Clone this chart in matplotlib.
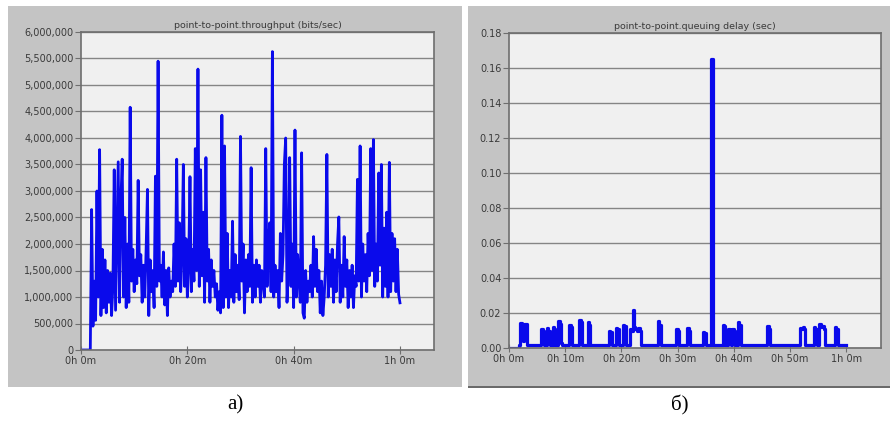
import matplotlib.pyplot as plt
from matplotlib.patches import Rectangle
from matplotlib.ticker import FuncFormatter

# sample spacing 15 s
step_min = 0.25

# throughput, thousands of bits/sec, t = 0 .. 60 min
throughput_k = [
    0, 0, 0, 0, 0, 0, 0, 0, 2650, 450, 1300, 560,
    3000, 1000, 3780, 650, 1900, 800, 1700, 700, 1500, 900, 1450, 650,
    1200, 3400, 750, 2100, 3550, 900, 2800, 3600, 1000, 2500, 800, 2000,
    900, 4580, 1300, 1900, 1100, 1700, 1250, 3200, 1400, 1800, 900, 1600,
    1000, 1900, 3030, 650, 1700, 1100, 1500, 800, 3280, 1200, 5450, 1300,
    1600, 1000, 1850, 850, 1500, 650, 1550, 1000, 1300, 1100, 2000, 1200,
    3600, 1300, 2400, 1100, 1800, 3500, 1200, 2100, 1000, 1600, 3270, 1100,
    1900, 1300, 3800, 1500, 5300, 1200, 3400, 1400, 2600, 900, 3630, 1300,
    1900, 900, 1700, 1200, 1500, 1000, 1250, 750, 1100, 700, 4430, 800,
    3850, 1000, 2200, 800, 1500, 1000, 2430, 900, 1800, 1100, 1600, 950,
    4030, 1300, 2000, 700, 1700, 1100, 1800, 1200, 3440, 900, 1600, 1000,
    1700, 1200, 1600, 900, 1500, 1300, 1000, 3800, 1200, 2000, 2400, 1100,
    5630, 1000, 1600, 1100, 1500, 800, 2200, 1300, 1800, 3500, 4000, 900,
    1500, 3630, 1200, 2000, 800, 4150, 1000, 1800, 1300, 900, 3720, 700,
    600, 1500, 900, 1300, 1100, 1600, 1000, 2140, 1200, 1900, 1100, 1500,
    700, 1300, 650, 1000, 1600, 3690, 1000, 1800, 1200, 1900, 900, 1700,
    1100, 2000, 2510, 900, 1600, 1000, 2140, 1200, 1700, 800, 1500, 1000,
    1600, 800, 1400, 1200, 3220, 1300, 3850, 1000, 2000, 1300, 1800, 1100,
    2200, 1400, 3800, 1500, 3970, 1200, 2000, 1300, 3340, 1600, 3500, 1000,
    2300, 1200, 2600, 1000, 3540, 1100, 2200, 1300, 2100, 1100, 1900, 1050,
    890,
]

# queuing delay, milliseconds, t = 0 .. 60 min
delay_ms = [
    0, 0, 0, 0, 0, 0, 0, 1.5, 14.5, 12, 4, 13.5,
    14, 2, 1.5, 1.5, 1.5, 1.5, 1.5, 1.5, 1.5, 1.5, 1.5, 11,
    10, 2, 1.5, 11.5, 10, 1.5, 1.5, 12, 11, 1.5, 1.5, 15.5,
    14, 3, 1.5, 1.5, 1.5, 1.5, 1.5, 13, 12, 1.5, 1.5, 1.5,
    1.5, 1.5, 16, 15, 2, 1.5, 1.5, 1.5, 15, 13, 2, 1.5,
    1.5, 1.5, 1.5, 1.5, 1.5, 1.5, 1.5, 1.5, 1.5, 1.5, 1.5, 10,
    9, 1.5, 1.5, 1.5, 11.5, 11, 1.5, 1.5, 1.5, 13, 12.5, 2,
    1.5, 1.5, 11, 10, 22, 12, 11, 10, 11.5, 10, 2, 1.5,
    1.5, 1.5, 1.5, 1.5, 1.5, 1.5, 1.5, 1.5, 1.5, 1.5, 15.5, 13,
    2, 1.5, 1.5, 1.5, 1.5, 1.5, 1.5, 1.5, 1.5, 1.5, 1.5, 11,
    10, 1.5, 1.5, 1.5, 1.5, 1.5, 1.5, 11.5, 10, 1.5, 1.5, 1.5,
    1.5, 1.5, 1.5, 1.5, 1.5, 1.5, 9, 8.5, 1.5, 1.5, 1.5, 1.5,
    165, 2, 1.5, 1.5, 1.5, 1.5, 1.5, 1.5, 13, 12.5, 2, 1.5,
    11, 10.5, 1.5, 11, 10, 1.5, 1.5, 14.7, 13, 1.5, 1.5, 1.5,
    1.5, 1.5, 1.5, 1.5, 1.5, 1.5, 1.5, 1.5, 1.5, 1.5, 1.5, 1.5,
    1.5, 1.5, 1.5, 1.5, 12.5, 11, 2, 1.5, 1.5, 1.5, 1.5, 1.5,
    1.5, 1.5, 1.5, 1.5, 1.5, 1.5, 1.5, 1.5, 1.5, 1.5, 1.5, 1.5,
    1.5, 1.5, 1.5, 11.5, 11, 12, 11, 1.5, 1.5, 1.5, 1.5, 1.5,
    1.5, 12, 11, 1.5, 1.5, 13.7, 12, 12.5, 11, 1.5, 1.5, 1.5,
    1.5, 1.5, 1.5, 1.5, 11.8, 11, 1.5, 1.5, 1.5, 1.5, 1.5, 1.5,
    1.5,
]

left_ticks = [0, 20, 40, 60]
left_tick_labels = ["0h 0m", "0h 20m", "0h 40m", "1h 0m"]
right_ticks = [0, 10, 20, 30, 40, 50, 60]
right_tick_labels = ["0h 0m", "0h 10m", "0h 20m", "0h 30m", "0h 40m", "0h 50m", "1h 0m"]

W, H = 896, 425
panel_grey = "#c4c4c4"
face = "#f0f0f0"
blue = "#0a0aeb"
text_col = "#3a3a3a"

plt.rcParams["font.family"] = ["DejaVu Sans"]

fig = plt.figure(figsize=(W / 100, H / 100), dpi=100)
fig.patch.set_facecolor("white")


def px_rect(x0, y0, x1, y1):
    # pixel box (top-left origin) -> figure fraction
    return (x0 / W, 1 - y1 / H, (x1 - x0) / W, (y1 - y0) / H)


for box in [(8, 6, 462, 387), (468, 6, 890, 387)]:
    l, b, w, h = px_rect(*box)
    fig.patches.append(Rectangle((l, b), w, h, transform=fig.transFigure,
                                 facecolor=panel_grey, edgecolor="none", zorder=-10))
# darker bottom edge of the right panel
l, b, w, h = px_rect(468, 386, 890, 388)
fig.patches.append(Rectangle((l, b), w, h, transform=fig.transFigure,
                             facecolor="#6a6a6a", edgecolor="none", zorder=-10))

ax1 = fig.add_axes(px_rect(81, 32, 434, 350))
ax2 = fig.add_axes(px_rect(509, 33, 881, 348))

t1 = [i * step_min for i in range(len(throughput_k))]
t2 = [i * step_min for i in range(len(delay_ms))]

ax1.plot(t1, [v * 1000 for v in throughput_k], color=blue, lw=2.0)
ax2.plot(t2, [v / 1000 for v in delay_ms], color=blue, lw=2.3, drawstyle="steps-post")

ax1.set_xlim(0, 66.4)
ax1.set_ylim(0, 6e6)
ax1.set_yticks([i * 500000 for i in range(13)])
ax1.yaxis.set_major_formatter(FuncFormatter(lambda v, p: "{:,.0f}".format(v)))
ax1.set_xticks(left_ticks)
ax1.set_xticklabels(left_tick_labels)
ax1.set_title("point-to-point.throughput (bits/sec)", fontsize=6.8, color=text_col, pad=3)

ax2.set_xlim(0, 66.2)
ax2.set_ylim(0, 0.18)
ax2.set_yticks([i * 0.02 for i in range(10)])
ax2.yaxis.set_major_formatter(FuncFormatter(lambda v, p: "{:.2f}".format(v)))
ax2.set_xticks(right_ticks)
ax2.set_xticklabels(right_tick_labels)
ax2.set_title("point-to-point.queuing delay (sec)", fontsize=6.8, color=text_col, pad=3)

for ax in (ax1, ax2):
    ax.set_zorder(1)
    ax.set_facecolor(face)
    ax.grid(axis="y", color="#858585", lw=1.0)
    ax.set_axisbelow(True)
    for s in ax.spines.values():
        s.set_color("#6e6e6e")
        s.set_linewidth(1.2)
    ax.tick_params(axis="y", labelsize=7, colors="#6e6e6e", labelcolor=text_col,
                   length=4, width=0.8, pad=1.5)
    ax.tick_params(axis="x", labelsize=7, colors="#6e6e6e", labelcolor=text_col,
                   direction="inout", length=6, width=0.8, pad=1)

fig.text(235 / W, 1 - 405 / H, "a)", family="Liberation Serif", fontsize=15,
         ha="center", va="center")
fig.text(680 / W, 1 - 405 / H, "б)", family="Liberation Serif", fontsize=15,
         ha="center", va="center")

fig.savefig("out.png", dpi=100)
